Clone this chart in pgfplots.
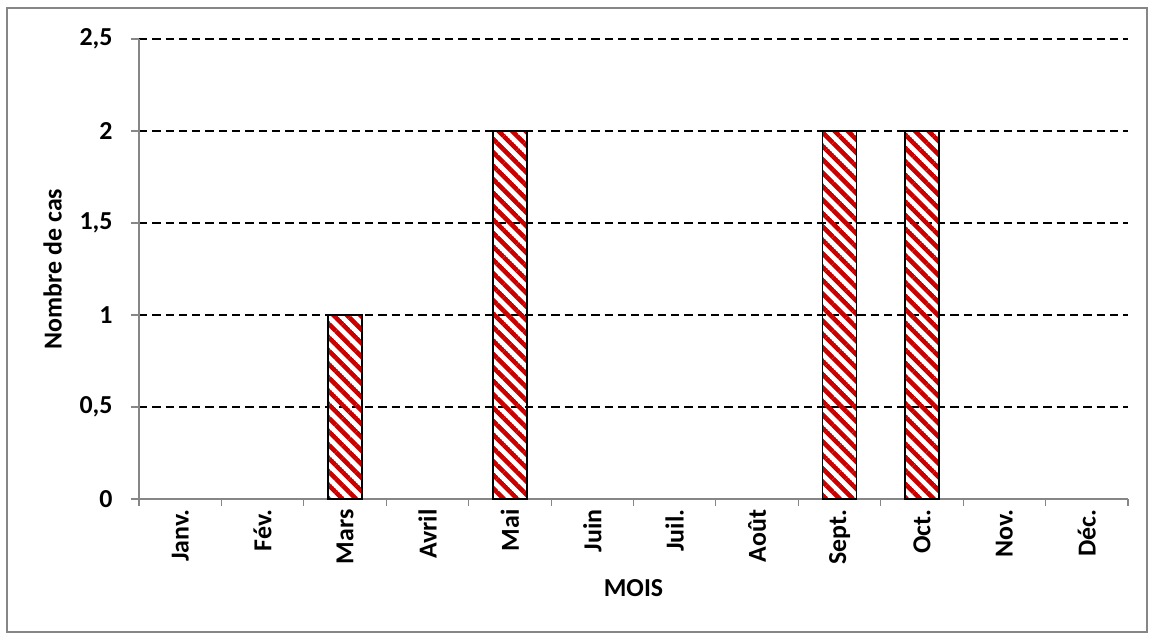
\documentclass[border=0pt]{standalone}
\usepackage{pgfplots}
\pgfplotsset{compat=1.18}
\usepackage{fontspec}
\setmainfont{Carlito}
\usetikzlibrary{patterns.meta}

% thick diagonal stripes for the bars
\tikzdeclarepattern{
  name=thickstripes,
  parameters={\pgfkeysvalueof{/pgf/pattern keys/size},
              \pgfkeysvalueof{/pgf/pattern keys/angle},
              \pgfkeysvalueof{/pgf/pattern keys/line width}},
  bounding box={(0,-0.5*\pgfkeysvalueof{/pgf/pattern keys/line width}) and
                (\pgfkeysvalueof{/pgf/pattern keys/size},0.5*\pgfkeysvalueof{/pgf/pattern keys/line width})},
  tile size={(\pgfkeysvalueof{/pgf/pattern keys/size},\pgfkeysvalueof{/pgf/pattern keys/size})},
  tile transformation={rotate=\pgfkeysvalueof{/pgf/pattern keys/angle}},
  defaults={size/.initial=9.5bp, angle/.initial=-45, line width/.initial=4.6bp},
  code={\draw[line width=\pgfkeysvalueof{/pgf/pattern keys/line width}]
        (0,0) -- (\pgfkeysvalueof{/pgf/pattern keys/size},0);},
}

\definecolor{framegray}{RGB}{134,134,134}
\definecolor{axisgray}{RGB}{134,134,134}
\definecolor{stripered}{RGB}{200,0,0}

\newcommand{\chartfont}{\bfseries\fontsize{26}{31}\selectfont}

% months with at least one case (all other months: 0)
\pgfplotstableread{
x cas
2 1
4 2
8 2
9 2
}\casdata

\begin{document}
\begin{tikzpicture}[x=1bp,y=1bp]
\path (-139,-141) rectangle (1015,499);
\draw[framegray, line width=1.8bp] (-132,-133) rectangle (1008,491);
\begin{axis}[
  at={(0,0)}, anchor=south west,
  scale only axis,
  width=989bp, height=460bp,
  xmin=-0.5, xmax=11.5,
  ymin=0, ymax=2.5,
  axis x line*=bottom,
  axis y line*=left,
  axis line style={axisgray, line width=1.1bp},
  every tick/.style={axisgray, line width=1.1bp},
  tick align=outside,
  xtick={0,...,11},
  xticklabels={Janv.,Fév.,Mars,Avril,Mai,Juin,Juil.,Août,Sept.,Oct.,Nov.,Déc.},
  major x tick style={draw=none},
  minor xtick={-0.5,0.5,...,11.5},
  minor tick length=7bp,
  tick label style={font=\chartfont},
  xticklabel style={rotate=90, anchor=east, xshift=1bp},
  ytick={0.5,1,...,2.5},
  extra y ticks={0},
  extra y tick style={grid=none},
  major tick length=8bp,
  ymajorgrids,
  grid style={black, dash pattern=on 8.3bp off 5bp, line width=1.2bp},
  yticklabel style={xshift=-15bp},
  /pgf/number format/assume math mode=true,
  /pgf/number format/use comma,
  xlabel={MOIS},
  ylabel={Nombre de cas},
  label style={font=\chartfont},
  xlabel style={yshift=-8bp},
  ylabel style={yshift=-5bp},
  clip=false,
]
\addplot[ybar, bar width=34bp, draw=black, line width=1.3bp,
  pattern={thickstripes}, pattern color=stripered]
  table[x=x, y=cas] {\casdata};
\end{axis}
\end{tikzpicture}
\end{document}
